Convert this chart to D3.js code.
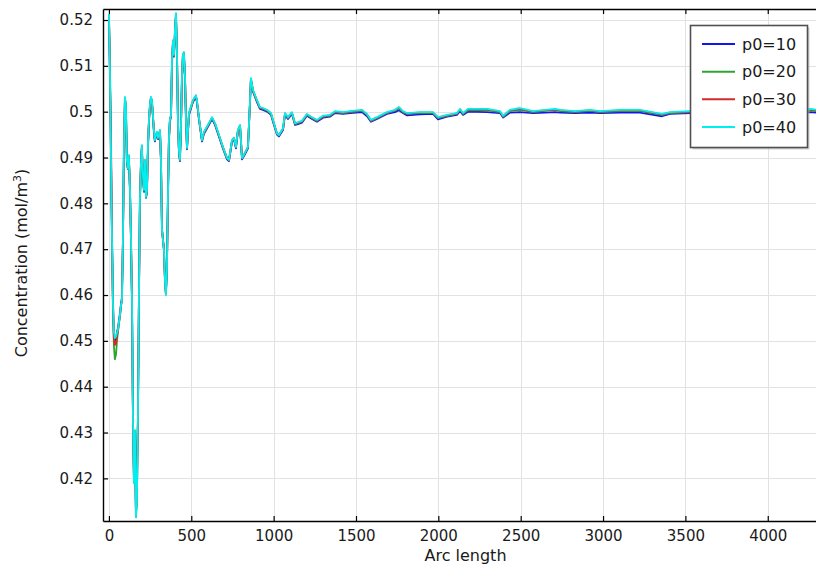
<!DOCTYPE html>
<html>
<head>
<meta charset="utf-8">
<script src="https://cdn.jsdelivr.net/npm/d3@7"></script>
<style>
  html, body { margin: 0; padding: 0; background: #fff; }
  svg { display: block; font-family: "DejaVu Sans", sans-serif; }
</style>
</head>
<body>
<svg id="chart" width="816" height="569"></svg>
<script>
// Arc length sample positions shared by all four parametric runs
const arcLength = [
  0,6,12,18,24,30,36,43,49,55,
  61,67,73,79,85,91,97,103,109,115,
  121,128,134,140,146,152,158,164,170,176,
  182,188,194,200,206,213,219,225,231,237,
  243,249,255,261,267,273,279,285,291,298,
  304,310,316,322,328,334,340,346,352,358,
  364,370,377,383,389,395,401,407,413,419,
  425,431,437,443,449,455,462,468,474,486,
  510,528,534,547,565,577,601,626,644,662,
  692,717,729,747,759,771,783,796,808,826,
  844,856,862,875,899,917,935,960,984,1002,
  1020,1032,1057,1069,1087,1111,1130,1148,1172,1202,
  1233,1263,1300,1342,1373,1421,1464,1536,1567,1591,
  1628,1688,1737,1761,1785,1810,1889,1968,1998,2053,
  2113,2132,2150,2180,2296,2375,2393,2435,2496,2575,
  2648,2709,2739,2830,2921,2982,3103,3224,3358,3407,
  3528,3711,3953,4136,4257,4300
];

// Concentration (mol/m^3) along the arc for p0=10
const conc10 = [
  0.5213,0.5091,0.4916,0.4742,0.4595,0.4515,0.4500,0.4505,0.4520,0.4528,
  0.4545,0.4560,0.4580,0.4595,0.4715,0.4910,0.5020,0.5010,0.4890,0.4875,
  0.4900,0.4825,0.4718,0.4585,0.4330,0.4195,0.4300,0.4120,0.4160,0.4330,
  0.4585,0.4800,0.4880,0.4920,0.4858,0.4825,0.4890,0.4812,0.4825,0.4920,
  0.4978,0.5010,0.5028,0.5020,0.4990,0.4957,0.4935,0.4946,0.4952,0.4940,
  0.4946,0.4956,0.4890,0.4745,0.4722,0.4700,0.4636,0.4604,0.4658,0.4803,
  0.4934,0.4978,0.4990,0.5108,0.5150,0.5120,0.5172,0.5208,0.5130,0.4978,
  0.4912,0.4892,0.4956,0.5064,0.5120,0.5126,0.5072,0.4978,0.4918,0.4993,
  0.5021,0.5032,0.5021,0.4982,0.4935,0.4952,0.4967,0.4984,0.4971,0.4952,
  0.4920,0.4896,0.4892,0.4934,0.4940,0.4920,0.4956,0.4967,0.4896,0.4907,
  0.4920,0.5015,0.5068,0.5043,0.5021,0.5006,0.5004,0.5000,0.4993,0.4971,
  0.4950,0.4946,0.4960,0.4993,0.4984,0.4995,0.4971,0.4973,0.4976,0.4991,
  0.4984,0.4978,0.4987,0.4989,0.4997,0.4995,0.4997,0.4999,0.4990,0.4978,
  0.4984,0.4995,0.4999,0.5003,0.4997,0.4992,0.4994,0.4995,0.4983,0.4989,
  0.4993,0.5001,0.4993,0.5000,0.4999,0.4997,0.4987,0.4998,0.4999,0.4997,
  0.4998,0.4999,0.4998,0.4997,0.4998,0.4997,0.4998,0.4998,0.4990,0.4995,
  0.4997,0.4998,0.4997,0.4998,0.4999,0.4998
];

// p0=20
const conc20 = [
  0.5213,0.5117,0.4925,0.4748,0.4580,0.4490,0.4460,0.4470,0.4500,0.4520,
  0.4538,0.4553,0.4575,0.4588,0.4718,0.4914,0.5028,0.5013,0.4893,0.4876,
  0.4903,0.4827,0.4719,0.4587,0.4328,0.4192,0.4303,0.4117,0.4156,0.4328,
  0.4587,0.4804,0.4882,0.4924,0.4860,0.4827,0.4893,0.4813,0.4827,0.4924,
  0.4980,0.5013,0.5030,0.5023,0.4992,0.4958,0.4937,0.4948,0.4954,0.4942,
  0.4948,0.4958,0.4893,0.4743,0.4721,0.4699,0.4634,0.4602,0.4656,0.4805,
  0.4936,0.4980,0.4992,0.5111,0.5153,0.5122,0.5175,0.5212,0.5133,0.4980,
  0.4914,0.4894,0.4958,0.5067,0.5122,0.5128,0.5074,0.4980,0.4920,0.4995,
  0.5023,0.5034,0.5023,0.4984,0.4937,0.4954,0.4969,0.4986,0.4973,0.4954,
  0.4922,0.4898,0.4894,0.4936,0.4942,0.4922,0.4958,0.4969,0.4898,0.4909,
  0.4922,0.5017,0.5071,0.5045,0.5023,0.5008,0.5006,0.5002,0.4995,0.4973,
  0.4952,0.4948,0.4962,0.4995,0.4986,0.4997,0.4973,0.4975,0.4978,0.4993,
  0.4986,0.4980,0.4989,0.4991,0.4999,0.4997,0.4999,0.5002,0.4993,0.4980,
  0.4986,0.4997,0.5002,0.5007,0.4999,0.4995,0.4997,0.4997,0.4986,0.4991,
  0.4995,0.5004,0.4995,0.5003,0.5003,0.4999,0.4989,0.5001,0.5004,0.4999,
  0.5002,0.5004,0.5001,0.4999,0.5002,0.4999,0.5001,0.5001,0.4993,0.4997,
  0.4999,0.5001,0.4999,0.5001,0.5003,0.5001
];

// p0=30
const conc30 = [
  0.5213,0.5070,0.4967,0.4745,0.4585,0.4505,0.4491,0.4495,0.4512,0.4522,
  0.4540,0.4555,0.4577,0.4589,0.4719,0.4915,0.5030,0.5014,0.4894,0.4877,
  0.4904,0.4828,0.4720,0.4588,0.4327,0.4191,0.4304,0.4116,0.4244,0.4327,
  0.4588,0.4806,0.4883,0.4926,0.4861,0.4828,0.4894,0.4814,0.4828,0.4926,
  0.4981,0.5014,0.5031,0.5024,0.4993,0.4959,0.4938,0.4949,0.4955,0.4943,
  0.4949,0.4959,0.4894,0.4742,0.4720,0.4698,0.4633,0.4601,0.4655,0.4806,
  0.4937,0.4981,0.4993,0.5112,0.5155,0.5123,0.5177,0.5214,0.5134,0.4981,
  0.4915,0.4895,0.4959,0.5068,0.5123,0.5129,0.5075,0.4981,0.4921,0.4996,
  0.5024,0.5035,0.5024,0.4985,0.4938,0.4955,0.4970,0.4987,0.4974,0.4955,
  0.4923,0.4899,0.4895,0.4937,0.4943,0.4923,0.4959,0.4970,0.4899,0.4910,
  0.4923,0.5018,0.5072,0.5046,0.5024,0.5009,0.5007,0.5003,0.4996,0.4974,
  0.4953,0.4949,0.4963,0.4996,0.4987,0.4998,0.4974,0.4976,0.4979,0.4994,
  0.4987,0.4981,0.4990,0.4992,0.5000,0.4998,0.5000,0.5003,0.4994,0.4981,
  0.4987,0.4998,0.5003,0.5009,0.5000,0.4996,0.4998,0.4998,0.4987,0.4992,
  0.4996,0.5005,0.4996,0.5005,0.5005,0.5000,0.4990,0.5003,0.5006,0.5000,
  0.5003,0.5005,0.5003,0.5000,0.5003,0.5000,0.5003,0.5003,0.4994,0.4998,
  0.5000,0.5003,0.5000,0.5003,0.5005,0.5003
];

// p0=40
const conc40 = [
  0.5213,0.5091,0.4916,0.4742,0.4589,0.4520,0.4506,0.4510,0.4518,0.4525,
  0.4541,0.4556,0.4578,0.4589,0.4720,0.4916,0.5032,0.5015,0.4895,0.4877,
  0.4905,0.4829,0.4720,0.4589,0.4327,0.4190,0.4305,0.4115,0.4153,0.4327,
  0.4589,0.4807,0.4884,0.4927,0.4862,0.4829,0.4895,0.4814,0.4829,0.4927,
  0.4982,0.5015,0.5032,0.5025,0.4993,0.4960,0.4938,0.4949,0.4956,0.4943,
  0.4949,0.4960,0.4895,0.4742,0.4720,0.4698,0.4633,0.4600,0.4655,0.4807,
  0.4938,0.4982,0.4993,0.5113,0.5156,0.5124,0.5178,0.5215,0.5135,0.4982,
  0.4916,0.4895,0.4960,0.5069,0.5124,0.5130,0.5076,0.4982,0.4921,0.4997,
  0.5025,0.5036,0.5025,0.4986,0.4938,0.4956,0.4971,0.4988,0.4975,0.4956,
  0.4923,0.4899,0.4895,0.4938,0.4943,0.4923,0.4960,0.4971,0.4899,0.4910,
  0.4923,0.5019,0.5073,0.5047,0.5025,0.5010,0.5008,0.5004,0.4997,0.4975,
  0.4953,0.4949,0.4964,0.4997,0.4988,0.4999,0.4975,0.4977,0.4980,0.4995,
  0.4988,0.4982,0.4991,0.4993,0.5001,0.4999,0.5001,0.5004,0.4995,0.4982,
  0.4988,0.4999,0.5004,0.5010,0.5001,0.4997,0.4999,0.4999,0.4988,0.4993,
  0.4997,0.5006,0.4997,0.5006,0.5006,0.5001,0.4991,0.5004,0.5008,0.5001,
  0.5004,0.5006,0.5004,0.5001,0.5004,0.5001,0.5004,0.5004,0.4995,0.4999,
  0.5001,0.5004,0.5001,0.5004,0.5006,0.5004
];

const seriesNames = ["p0=10", "p0=20", "p0=30", "p0=40"];
const seriesColors = ["#1414f0", "#2fa52f", "#d42a2a", "#00f0f0"];

const xTicks = [0, 500, 1000, 1500, 2000, 2500, 3000, 3500, 4000];
const xTickLabels = ["0", "500", "1000", "1500", "2000", "2500", "3000", "3500", "4000"];
const yTicks = [0.42, 0.43, 0.44, 0.45, 0.46, 0.47, 0.48, 0.49, 0.50, 0.51, 0.52];
const yTickLabels = ["0.42", "0.43", "0.44", "0.45", "0.46", "0.47", "0.48", "0.49", "0.5", "0.51", "0.52"];

// Plot frame
const plot = { left: 103, right: 816, top: 9, bottom: 521 };

const svg = d3.select("#chart");

const x = d3.scaleLinear().domain([-36, 4293]).range([plot.left, plot.right]);
const y = d3.scaleLinear().domain([0.4107, 0.5224]).range([plot.bottom, plot.top]);

// Grid
const grid = svg.append("g").attr("stroke", "#e2e2e2").attr("stroke-width", 1);
grid.selectAll("line.v").data(xTicks).join("line")
  .attr("class", "v")
  .attr("x1", d => Math.round(x(d)) + 0.5).attr("x2", d => Math.round(x(d)) + 0.5)
  .attr("y1", plot.top).attr("y2", plot.bottom);
grid.selectAll("line.h").data(yTicks).join("line")
  .attr("class", "h")
  .attr("y1", d => Math.round(y(d)) + 0.5).attr("y2", d => Math.round(y(d)) + 0.5)
  .attr("x1", plot.left).attr("x2", plot.right);

// Curves
svg.append("defs").append("clipPath").attr("id", "plot-clip")
  .append("rect")
  .attr("x", plot.left).attr("y", plot.top)
  .attr("width", plot.right - plot.left).attr("height", plot.bottom - plot.top);

const seriesValues = [conc10, conc20, conc30, conc40];
const line = d3.line()
  .x(d => x(d[0]))
  .y(d => y(d[1]));

const curves = svg.append("g").attr("clip-path", "url(#plot-clip)");
seriesValues.forEach((vals, i) => {
  curves.append("path")
    .datum(arcLength.map((a, k) => [a, vals[k]]))
    .attr("fill", "none")
    .attr("stroke", seriesColors[i])
    .attr("stroke-width", 1.8)
    .attr("stroke-linejoin", "round")
    .attr("d", line);
});

// Axes
const axisBottom = d3.axisBottom(x)
  .tickValues(xTicks)
  .tickFormat((d, i) => xTickLabels[i])
  .tickSizeInner(-5).tickSizeOuter(0).tickPadding(9);
const gx = svg.append("g").attr("transform", `translate(0,${plot.bottom})`).call(axisBottom);

const axisTop = d3.axisTop(x)
  .tickValues(xTicks)
  .tickFormat("")
  .tickSizeInner(-5).tickSizeOuter(0);
const gt = svg.append("g").attr("transform", `translate(0,${plot.top})`).call(axisTop);

const axisLeft = d3.axisLeft(y)
  .tickValues(yTicks)
  .tickFormat((d, i) => yTickLabels[i])
  .tickSizeInner(-5).tickSizeOuter(0).tickPadding(10);
const gy = svg.append("g").attr("transform", `translate(${plot.left},0)`).call(axisLeft);

[gx, gt, gy].forEach(g => {
  g.select(".domain").attr("stroke", "#000").attr("stroke-width", 1.4);
  g.selectAll(".tick line").attr("stroke", "#000").attr("stroke-width", 1.2);
  g.selectAll(".tick text")
    .attr("fill", "#1a1a1a")
    .style("font-family", "'DejaVu Sans', sans-serif")
    .style("font-size", "15px");
});

// Axis titles
svg.append("text")
  .attr("x", (plot.left + 816) / 2 + 6)
  .attr("y", 561)
  .attr("text-anchor", "middle")
  .attr("fill", "#1a1a1a")
  .style("font-size", "16px")
  .text("Arc length");

const yTitle = svg.append("text")
  .attr("transform", "translate(27,263) rotate(-90)")
  .attr("text-anchor", "middle")
  .attr("fill", "#1a1a1a")
  .style("font-size", "16px");
yTitle.append("tspan").text("Concentration (mol/m");
yTitle.append("tspan").attr("dy", -6).style("font-size", "11px").text("3");
yTitle.append("tspan").attr("dy", 6).text(")");

// Legend
const legend = svg.append("g");
legend.append("rect")
  .attr("x", 692.5).attr("y", 27.5).attr("width", 117).attr("height", 122)
  .attr("fill", "#b0b0b0").attr("opacity", 0.6);
legend.append("rect")
  .attr("x", 690.5).attr("y", 25.5).attr("width", 117).attr("height", 122)
  .attr("fill", "#fff").attr("stroke", "#505050").attr("stroke-width", 1.6);
const rowY = d3.scalePoint().domain(seriesNames).range([44, 127]);
seriesNames.forEach((name, i) => {
  legend.append("line")
    .attr("x1", 702).attr("x2", 735)
    .attr("y1", rowY(name)).attr("y2", rowY(name))
    .attr("stroke", seriesColors[i]).attr("stroke-width", 2);
  legend.append("text")
    .attr("x", 742).attr("y", rowY(name)).attr("dy", "0.36em")
    .attr("fill", "#1a1a1a")
    .style("font-size", "16px")
    .text(name);
});
</script>
</body>
</html>
